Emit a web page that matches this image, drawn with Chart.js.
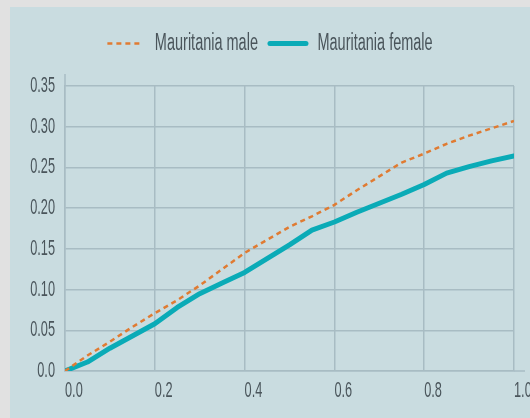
<!DOCTYPE html>
<html>
<head>
<meta charset="utf-8">
<script src="https://cdn.jsdelivr.net/npm/chart.js@4"></script>
<style>
  html, body { margin: 0; padding: 0; background: #e1e1e1; }
  #panel { position: absolute; left: 10px; top: 7px; width: 520px; height: 411px; background: #c9dce0; }
  #chart { display: block; }
</style>
</head>
<body>
<div id="panel"><canvas id="chart" width="520" height="411"></canvas></div>
<script>
// shares (x) and values
const xValues = [0, 0.05, 0.1, 0.15, 0.2, 0.25, 0.3, 0.35, 0.4, 0.45, 0.5,
                 0.55, 0.6, 0.65, 0.7, 0.75, 0.8, 0.85, 0.9, 0.95, 1.0];
const maleValues = [0, 0.019, 0.036, 0.054, 0.071, 0.087, 0.105, 0.125, 0.145, 0.161, 0.177,
                    0.190, 0.204, 0.222, 0.239, 0.256, 0.267, 0.279, 0.289, 0.298, 0.307];
const femaleValues = [0, 0.011, 0.028, 0.043, 0.058, 0.078, 0.095, 0.108, 0.121, 0.138, 0.155,
                      0.173, 0.183, 0.195, 0.206, 0.217, 0.229, 0.243, 0.251, 0.258, 0.264];
const seriesLabels = ['Mauritania male', 'Mauritania female'];
const xTicks = [0, 0.2, 0.4, 0.6, 0.8, 1.0];
const yTicks = [0, 0.05, 0.10, 0.15, 0.20, 0.25, 0.30, 0.35];

const FONT = "'Liberation Sans', Arial, sans-serif";
const TEXT = '#4a555b';
const GRID = '#a8bcc3';
const MALE = '#e07b32';
const FEMALE = '#0aabb7';

function toPoints(ys) {
  return xValues.map((x, i) => ({ x: x, y: ys[i] }));
}

// no condensed face is installed, so squeeze the text horizontally
function condenseText(ctx) {
  const squeeze = () => ctx.font.indexOf('23px') >= 0 ? 0.63 : 0.58;
  const rawFill = ctx.fillText;
  const rawMeasure = ctx.measureText;
  ctx.fillText = function (text, x, y) {
    this.save();
    this.translate(x, y);
    this.scale(squeeze(), 1);
    rawFill.call(this, text, 0, 0);
    this.restore();
  };
  ctx.measureText = function (text) {
    const m = rawMeasure.call(this, text);
    return {
      width: m.width * squeeze(),
      actualBoundingBoxAscent: m.actualBoundingBoxAscent,
      actualBoundingBoxDescent: m.actualBoundingBoxDescent,
      actualBoundingBoxLeft: m.actualBoundingBoxLeft * squeeze(),
      actualBoundingBoxRight: m.actualBoundingBoxRight * squeeze()
    };
  };
}

// axis lines run a little past the plot area in the original
const axisOvershoot = {
  id: 'axisOvershoot',
  afterDraw(chart) {
    const a = chart.chartArea;
    const ctx = chart.ctx;
    ctx.save();
    ctx.strokeStyle = GRID;
    ctx.lineWidth = 1.5;
    ctx.beginPath();
    ctx.moveTo(a.left, a.top);
    ctx.lineTo(a.left, a.top - 12);
    ctx.moveTo(a.right, a.bottom);
    ctx.lineTo(a.right + 11, a.bottom);
    ctx.stroke();
    ctx.restore();
  }
};

// extra room under the legend, and nudge it right a little
const legendGap = {
  id: 'legendGap',
  beforeInit(chart) {
    const legend = chart.legend;
    const fit = legend.fit;
    const draw = legend.draw;
    legend.fit = function () {
      fit.call(legend);
      this.height += 21;
    };
    legend.draw = function () {
      const c = this.ctx;
      c.save();
      c.translate(8, 0);
      draw.call(legend);
      c.restore();
    };
  }
};

const ctx = document.getElementById('chart').getContext('2d');
condenseText(ctx);

new Chart(ctx, {
  type: 'line',
  data: {
    datasets: [{
      label: seriesLabels[0],
      data: toPoints(maleValues),
      borderColor: MALE,
      backgroundColor: MALE,
      borderWidth: 2.5,
      borderDash: [5, 4],
      pointRadius: 0,
      tension: 0
    }, {
      label: seriesLabels[1],
      data: toPoints(femaleValues),
      borderColor: FEMALE,
      backgroundColor: FEMALE,
      borderWidth: 5,
      borderCapStyle: 'round',
      borderJoinStyle: 'round',
      pointRadius: 0,
      tension: 0
    }]
  },
  options: {
    responsive: false,
    animation: false,
    layout: { padding: { top: 13, right: 16, left: 0, bottom: 0 } },
    scales: {
      x: {
        type: 'linear',
        min: 0,
        max: 1,
        afterBuildTicks: s => { s.ticks = xTicks.map(v => ({ value: v })); },
        afterFit: s => { s.height = 47; s.paddingLeft = 0; s.paddingRight = 0; },
        grid: { color: GRID, lineWidth: 1.5, drawTicks: false },
        border: { color: GRID, width: 1.5 },
        ticks: {
          align: 'start',
          padding: 7,
          color: TEXT,
          font: { family: FONT, size: 22 },
          callback: v => v.toFixed(1)
        }
      },
      y: {
        min: 0,
        max: 0.35,
        afterBuildTicks: s => { s.ticks = yTicks.map(v => ({ value: v })); },
        afterFit: s => { s.width = 55; s.paddingTop = 0; s.paddingBottom = 0; },
        grid: { color: GRID, lineWidth: 1.5, drawTicks: false },
        border: { color: GRID, width: 1.5 },
        ticks: {
          padding: 10,
          color: TEXT,
          font: { family: FONT, size: 22 },
          callback: v => v === 0 ? '0.0' : v.toFixed(2)
        }
      }
    },
    plugins: {
      legend: {
        position: 'top',
        labels: {
          usePointStyle: true,
          pointStyle: 'line',
          pointStyleWidth: 36,
          boxWidth: 36,
          boxHeight: 10,
          padding: 12,
          color: TEXT,
          font: { family: FONT, size: 23 },
          generateLabels: chart => chart.data.datasets.map((ds, i) => ({
            text: ds.label,
            datasetIndex: i,
            fillStyle: ds.borderColor,
            strokeStyle: ds.borderColor,
            fontColor: TEXT,
            lineWidth: ds.borderWidth,
            lineDash: ds.borderDash || [],
            lineCap: i === 0 ? 'butt' : 'round',
            pointStyle: 'line',
            hidden: false
          }))
        }
      },
      tooltip: { enabled: false }
    }
  },
  plugins: [axisOvershoot, legendGap]
});
</script>
</body>
</html>
